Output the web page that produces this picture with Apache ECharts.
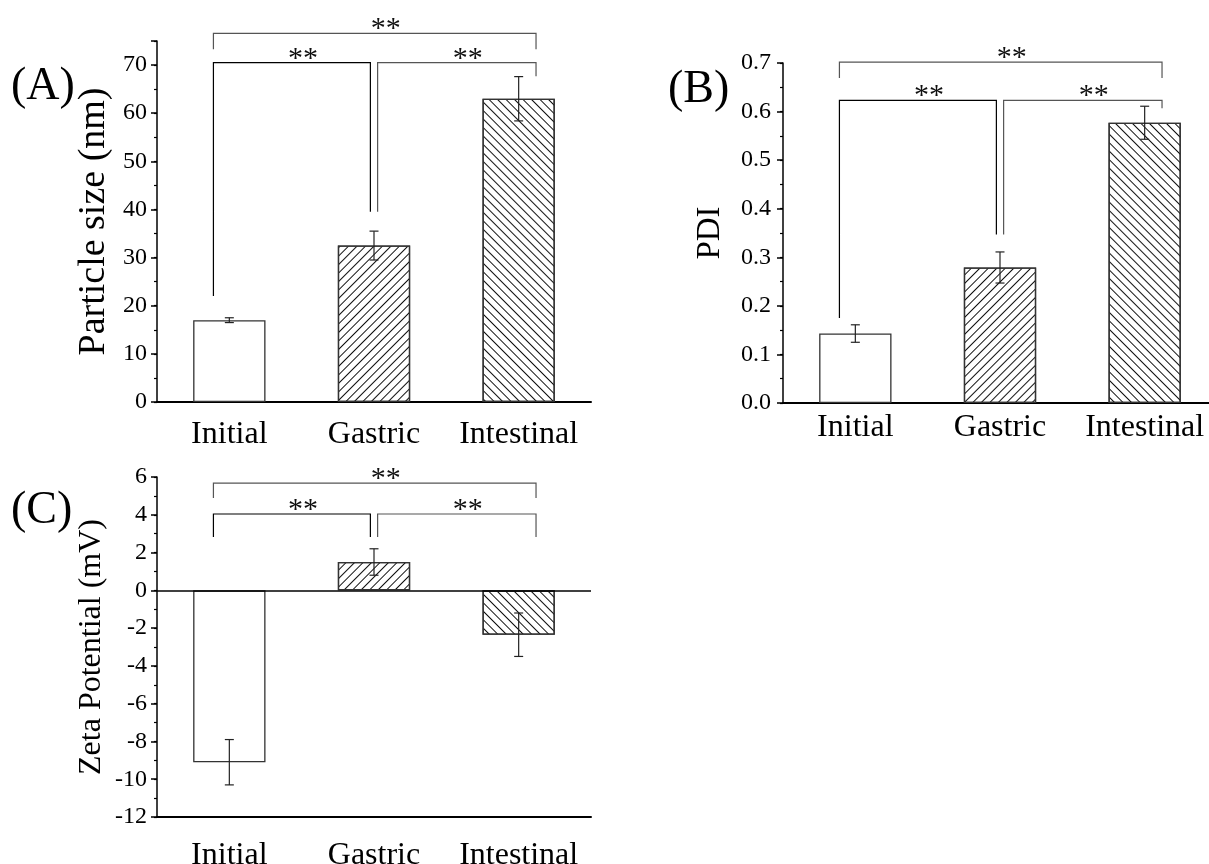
<!DOCTYPE html>
<html><head><meta charset="utf-8">
<script src="https://cdn.jsdelivr.net/npm/echarts@6/dist/echarts.min.js"></script>
<style>html,body{margin:0;padding:0;background:#fff}#c{width:1209px;height:864px}</style>
</head><body><div id="c"></div>
<script>
// ---------- data ----------
const categories = ['Initial', 'Gastric', 'Intestinal'];

const sizeMean = [17.0, 32.5, 63.0];
const sizeErr  = [0.5, 3.0, 4.6];
const pdiMean  = [0.143, 0.279, 0.577];
const pdiErr   = [0.018, 0.032, 0.034];
const zetaMean = [-9.1, 1.5, -2.35];
const zetaErr  = [1.2, 0.7, 1.15];

// axis ranges [min, max, major interval, minor interval]
const sizeAxisRange = [0, 75, 10, 5];
const pdiAxisRange  = [0, 0.7, 0.1, 0.05];
const zetaAxisRange = [-12, 6, 2, 1];

// significance brackets: [fromCat, toCat, barLevel, leftLegEnd, rightLegEnd]
const sizeBrackets = [[0, 2, 76.6, 73.3, 73.3], [0, 1, 70.5, 22, 39.5], [1, 2, 70.5, 39.5, 67.7]];
const pdiBrackets  = [[0, 2, 0.702, 0.669, 0.669], [0, 1, 0.623, 0.175, 0.347], [1, 2, 0.623, 0.347, 0.607]];
const zetaBrackets = [[0, 2, 5.68, 4.89, 4.89], [0, 1, 4.04, 2.83, 2.83], [1, 2, 4.04, 2.83, 2.83]];
const sigLabel = '**';

const yNames = ['Particle size (nm)', 'PDI', 'Zeta Potential (mV)'];
const panelLetters = ['(A)', '(B)', '(C)'];

// ---------- styling ----------
const SERIF = '"Liberation Serif", "Times New Roman", serif';
const hatchFwd = { symbol: 'rect', symbolSize: 1, dashArrayX: [1, 0], dashArrayY: [1, 4.2], rotation: -Math.PI / 4, color: '#111' };
const hatchBack = { symbol: 'rect', symbolSize: 1, dashArrayX: [1, 0], dashArrayY: [1, 4.2], rotation: Math.PI / 4, color: '#111' };
const barDecals = [null, hatchFwd, hatchBack];

const grids = [
  { left: 157, top: 41, width: 434, height: 361, outerBoundsMode: 'none', containLabel: false },
  { left: 783, top: 63, width: 434, height: 340, outerBoundsMode: 'none', containLabel: false },
  { left: 157, top: 477, width: 434, height: 340, outerBoundsMode: 'none', containLabel: false }
];
const catLabelMargin = [17, 9, 23];
const tickLabelMargin = [10, 12, 10];
const nameGaps = [44, 56, 49];
const nameSizes = [38, 33, 32];

function legOffset(cat, isLeft) {
  if (cat === 0) return -0.11;
  if (cat === 2) return 0.12;
  return isLeft ? 0.025 : -0.025;
}
const bracketColors = ['#555', '#000', '#555'];

function makeBracketRender() {
  return function (params, api) {
    const from = api.value(0), to = api.value(1);
    const lvl = api.value(2), lL = api.value(3), lR = api.value(4);
    const band = api.size([1, 0])[0];
    const pL = api.coord([from, lvl]), pR = api.coord([to, lvl]);
    const xL = pL[0] + band * legOffset(from, true);
    const xR = pR[0] + band * legOffset(to, false);
    const yTop = pL[1];
    const yLL = api.coord([from, lL])[1];
    const yLR = api.coord([to, lR])[1];
    const col = bracketColors[params.dataIndex];
    return {
      type: 'group',
      children: [
        { type: 'polyline', shape: { points: [[xL, yLL], [xL, yTop], [xR, yTop], [xR, yLR]] },
          style: { stroke: col, lineWidth: 1.2, fill: null } },
        { type: 'text', style: { text: sigLabel, x: (xL + xR) / 2 + 11, y: yTop - 4,
          align: 'center', verticalAlign: 'middle', font: '30px ' + SERIF, fill: '#111' } }
      ]
    };
  };
}

function errRender(params, api) {
  const x = api.value(0);
  const top = api.coord([x, api.value(1)]);
  const bot = api.coord([x, api.value(2)]);
  const cap = 4.5;
  const st = { stroke: '#222', lineWidth: 1.2 };
  return {
    type: 'group',
    children: [
      { type: 'line', shape: { x1: top[0], y1: top[1], x2: bot[0], y2: bot[1] }, style: st },
      { type: 'line', shape: { x1: top[0] - cap, y1: top[1], x2: top[0] + cap, y2: top[1] }, style: st },
      { type: 'line', shape: { x1: bot[0] - cap, y1: bot[1], x2: bot[0] + cap, y2: bot[1] }, style: st }
    ]
  };
}

const panels = [
  { mean: sizeMean, err: sizeErr, range: sizeAxisRange, brackets: sizeBrackets, fmt: v => (v % 10 === 0 ? String(v) : '') },
  { mean: pdiMean, err: pdiErr, range: pdiAxisRange, brackets: pdiBrackets, fmt: v => v.toFixed(1) },
  { mean: zetaMean, err: zetaErr, range: zetaAxisRange, brackets: zetaBrackets, fmt: v => String(v) }
];

const xAxes = [], yAxes = [], series = [];
panels.forEach((p, g) => {
  xAxes.push({
    type: 'category', gridIndex: g, data: categories, position: 'bottom',
    axisLine: { onZero: false, lineStyle: { color: '#000', width: 2 } },
    axisTick: { alignWithLabel: true, length: 5, lineStyle: { color: '#000', width: 1.5 } },
    axisLabel: { interval: 0, hideOverlap: false, fontFamily: SERIF, fontSize: 32, color: '#000', margin: catLabelMargin[g] },
    splitLine: { show: false }
  });
  xAxes.push({
    type: 'category', gridIndex: g, data: categories, position: 'bottom', offset: 0,
    axisLine: { show: false, onZero: false },
    axisTick: { length: 3, interval: 0, lineStyle: { color: '#000', width: 1.2 } },
    axisLabel: { show: false }, splitLine: { show: false }
  });
  yAxes.push({
    type: 'value', gridIndex: g, position: 'left', min: p.range[0], max: p.range[1], interval: p.range[2],
    axisLine: { show: true, onZero: false, lineStyle: { color: '#000', width: 1.5 } },
    axisTick: { show: true, length: 6, lineStyle: { color: '#000', width: 1.5 } },
    axisLabel: { fontFamily: SERIF, fontSize: 24, color: '#000', margin: tickLabelMargin[g],
      formatter: p.fmt },
    splitLine: { show: false },
    name: yNames[g], nameLocation: 'middle', nameGap: nameGaps[g], nameRotate: 90,
    nameTextStyle: { fontFamily: SERIF, fontSize: nameSizes[g], color: '#000' }
  });
  yAxes.push({
    type: 'value', gridIndex: g, position: 'left', offset: 0, min: p.range[0], max: p.range[1], interval: p.range[3],
    axisLine: { show: false, onZero: false },
    axisTick: { show: true, length: 3, lineStyle: { color: '#000', width: 1.2 } },
    axisLabel: { show: false }, splitLine: { show: false }
  });
  const xi = g * 2, yi = g * 2;
  const bar = {
    type: 'bar', xAxisIndex: xi, yAxisIndex: yi, barWidth: '50%', silent: true,
    data: p.mean.map((v, i) => ({
      value: v,
      itemStyle: { color: '#fff', borderColor: '#333', borderWidth: 1.3, decal: barDecals[i] || undefined }
    }))
  };
  if (g === 2) {
    bar.markLine = { silent: true, symbol: 'none', label: { show: false },
      lineStyle: { color: '#000', width: 1.5, type: 'solid' }, data: [{ yAxis: 0 }] };
  }
  series.push(bar);
  series.push({
    type: 'custom', xAxisIndex: xi, yAxisIndex: yi, silent: true, z: 5,
    encode: { x: 0, y: [1, 2] },
    data: p.mean.map((v, i) => [i, v + p.err[i], v - p.err[i]]),
    renderItem: errRender
  });
  series.push({
    type: 'custom', xAxisIndex: xi, yAxisIndex: yi, silent: true, z: 6, clip: false,
    encode: { x: [0, 1], y: [2, 3, 4] },
    data: p.brackets,
    renderItem: makeBracketRender()
  });
});

const chart = echarts.init(document.getElementById('c'), null, { renderer: 'canvas' });
chart.setOption({
  animation: false,
  backgroundColor: '#fff',
  grid: grids,
  xAxis: xAxes,
  yAxis: yAxes,
  series: series,
  graphic: [
    { type: 'text', left: 11, top: 64, style: { text: panelLetters[0], font: '46px ' + SERIF, fill: '#000' } },
    { type: 'text', left: 668, top: 67, style: { text: panelLetters[1], font: '46px ' + SERIF, fill: '#000' } },
    { type: 'text', left: 11, top: 488, style: { text: panelLetters[2], font: '46px ' + SERIF, fill: '#000' } }
  ]
});
</script></body></html>
